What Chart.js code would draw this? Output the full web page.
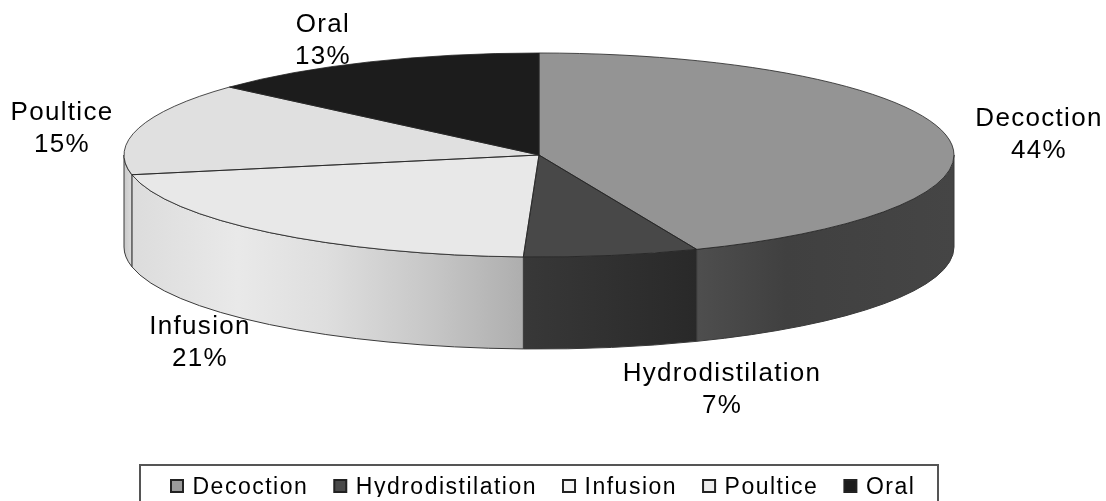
<!DOCTYPE html>
<html><head><meta charset="utf-8">
<style>html,body{margin:0;padding:0;background:#fff}canvas{display:block}</style>
<script src="https://cdn.jsdelivr.net/npm/chart.js@4"></script>
</head><body><canvas id="c" width="1106" height="501"></canvas>
<script>
const categories = ['Decoction','Hydrodistilation','Infusion','Poultice','Oral'];
const sliceValues = [43.8,6.8,21.3,14.7,13.4];
const topColors = ['#949494','#484848','#e8e8e8','#e0e0e0','#1c1c1c'];
const wallStops = [
  [[0,'#4e4e4e'],[0.35,'#404040'],[1,'#454545']],
  [[0,'#383838'],[1,'#292929']],
  [[0,'#dcdcdc'],[0.27,'#e9e9e9'],[0.5,'#dedede'],[0.75,'#c8c8c8'],[1,'#aeaeae']],
  [[0,'#c8c8c8'],[1,'#dcdcdc']],
  [[0,'#111111'],[1,'#111111']]
];
const legendSwatches = ['#9a9a9a','#4a4a4a','#f4f4f4','#eeeeee','#1c1c1c'];
const labelAnchors = [[1039,119],[722,374],[200,327],[62,113],[323,25]];
const FONT = '"Liberation Sans", Arial, sans-serif';
const RX = 415, RY = 102, DEPTH = 92;
const LEGEND_SPACING = '1.5px';

const pie3d = {
  id:'pie3d',
  beforeLayout(chart){ chart.ctx.letterSpacing=LEGEND_SPACING; },
  afterLayout(chart){
    chart.ctx.letterSpacing=LEGEND_SPACING;
    const l = chart.legend;
    l.left = 145; l.right = 1000; l.top = 449; l.bottom = 497;
    l.adjustHitBoxes();
    chart.chartArea = {left:0,top:0,right:1078,bottom:310,width:1078,height:310};
  },
  beforeDraw(chart){
    const c = chart.ctx;
    c.save();
    c.strokeStyle='#555'; c.lineWidth=2; c.strokeRect(140,465,798,50);
    c.restore();
    c.letterSpacing=LEGEND_SPACING;
  },
  beforeDatasetsDraw(chart){
    const c = chart.ctx, arcs = chart.getDatasetMeta(0).data;
    c.letterSpacing='0px';
    arcs.forEach((a,i)=>{
      const a0 = Math.max(a.startAngle,0), a1 = Math.min(a.endAngle,Math.PI);
      if (a1<=a0) return;
      const x0 = a.x+RX*Math.cos(a0), x1 = a.x+RX*Math.cos(a1);
      const g = c.createLinearGradient(Math.min(x0,x1),0,Math.max(x0,x1),0);
      wallStops[i].forEach(s=>g.addColorStop(s[0],s[1]));
      c.beginPath();
      c.ellipse(a.x,a.y,RX,RY,0,a0,a1);
      c.ellipse(a.x,a.y+DEPTH,RX,RY,0,a1,a0,true);
      c.closePath();
      c.fillStyle=g; c.fill();
      c.strokeStyle='#3a3a3a'; c.lineWidth=1; c.stroke();
    });
    c.save();
    c.translate(0,arcs[0].y); c.scale(1,RY/RX); c.translate(0,-arcs[0].y);
  },
  afterDatasetsDraw(chart){
    const c = chart.ctx, arcs = chart.getDatasetMeta(0).data;
    c.restore();
    arcs.forEach(a=>{
      c.save();
      c.translate(0,a.y); c.scale(1,RY/RX); c.translate(0,-a.y);
      c.beginPath();
      c.moveTo(a.x,a.y);
      c.arc(a.x,a.y,RX,a.startAngle,a.endAngle);
      c.closePath();
      c.restore();
      c.strokeStyle='rgba(35,35,35,0.8)'; c.lineWidth=1; c.stroke();
    });
    c.fillStyle='#000'; c.textAlign='center'; c.textBaseline='middle';
    c.font='26px '+FONT; c.letterSpacing='1.3px';
    categories.forEach((n,i)=>{
      const [x,y]=labelAnchors[i];
      c.fillText(n,x,y);
      c.fillText(Math.round(sliceValues[i])+'%',x,y+32);
    });
    c.letterSpacing=LEGEND_SPACING;
  },
  afterDraw(chart){
    const c = chart.ctx, l = chart.legend;
    l.legendHitBoxes.forEach((h,i)=>{
      const y = 480;
      c.fillStyle=legendSwatches[i]; c.fillRect(h.left-1,y,12,12);
      c.strokeStyle='#222'; c.lineWidth=2; c.strokeRect(h.left-1,y,12,12);
    });
  }
};

new Chart(document.getElementById('c'),{
  type:'pie',
  data:{labels:categories,datasets:[{data:sliceValues,backgroundColor:topColors,borderWidth:0,clip:false}]},
  plugins:[pie3d],
  options:{
    responsive:false,animation:false,radius:RX,
    layout:{padding:0},
    plugins:{
      tooltip:{enabled:false},
      legend:{
        position:'bottom',align:'start',
        labels:{
          font:{family:FONT,size:23},color:'#000',padding:27,boxWidth:9,boxHeight:9,
          generateLabels:(chart)=>categories.map((t,i)=>({text:t,fillStyle:'rgba(0,0,0,0)',strokeStyle:'rgba(0,0,0,0)',lineWidth:0,index:i,datasetIndex:0}))
        }
      }
    }
  }
});
</script></body></html>
